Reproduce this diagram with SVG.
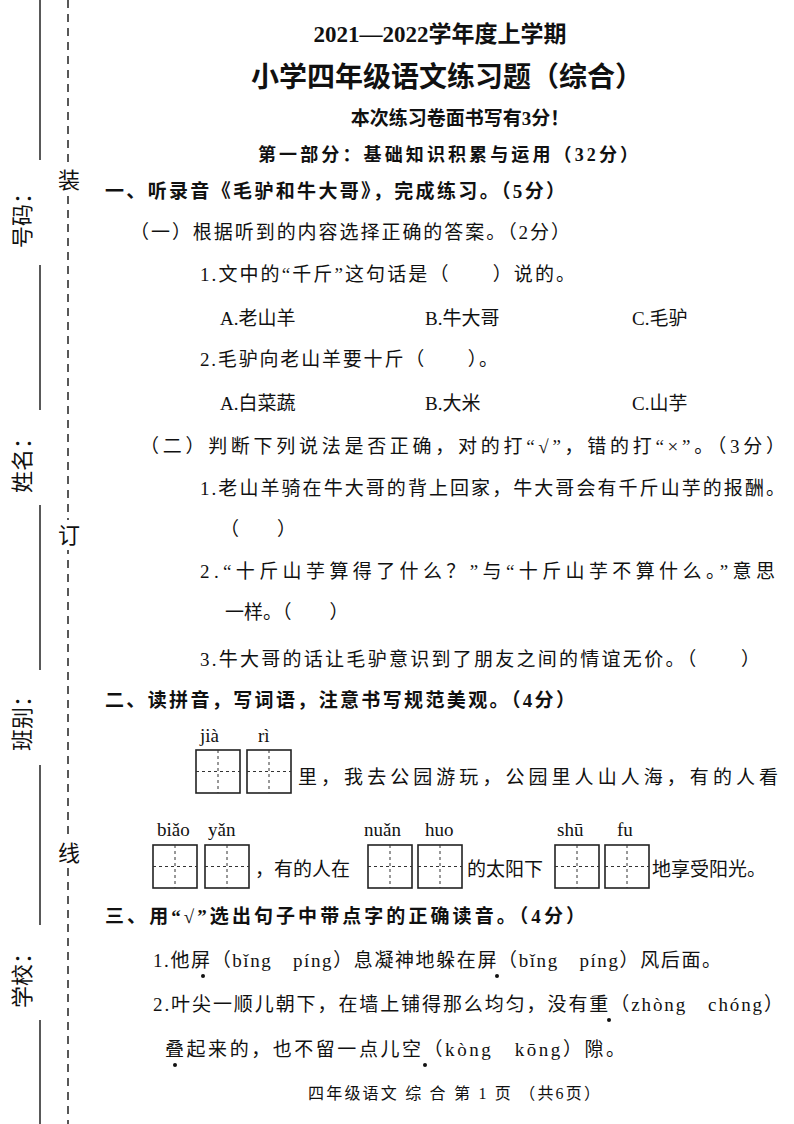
<svg xmlns="http://www.w3.org/2000/svg" width="794" height="1124" viewBox="0 0 794 1124">
<style>
text{font-family:"Liberation Serif","Noto Sans CJK SC",serif;fill:#111;font-size:19px}
.b{font-weight:bold}
.m{font-size:22px}
.t1{font-size:23px;font-weight:bold}
.t2{font-size:28px;font-weight:bold}
.t3{font-size:19px;font-weight:bold}
.t4{font-size:18px;font-weight:bold}
.ft{font-size:16px}
.box{fill:none;stroke:#222;stroke-width:1.6}
.dash{stroke:#333;stroke-width:1;stroke-dasharray:3,3}
.py{font-size:19px}
</style>
<rect width="794" height="1124" fill="#fff"/>
<g id="margin">
<line x1="40" y1="0" x2="40" y2="160" stroke="#222" stroke-width="1.5"/>
<line x1="40" y1="265" x2="40" y2="410" stroke="#222" stroke-width="1.5"/>
<line x1="40" y1="505" x2="40" y2="670" stroke="#222" stroke-width="1.5"/>
<line x1="40" y1="765" x2="40" y2="925" stroke="#222" stroke-width="1.5"/>
<line x1="40" y1="1020" x2="40" y2="1124" stroke="#222" stroke-width="1.5"/>
<line x1="68" y1="0" x2="68" y2="1124" stroke="#222" stroke-width="1.5" stroke-dasharray="8,6"/>
<text class="m" transform="translate(30,215) rotate(-90)" text-anchor="middle">号码：</text>
<text class="m" transform="translate(30,460) rotate(-90)" text-anchor="middle">姓名：</text>
<text class="m" transform="translate(30,718) rotate(-90)" text-anchor="middle">班别：</text>
<text class="m" transform="translate(30,975) rotate(-90)" text-anchor="middle">学校：</text>
<rect x="60" y="165" width="20" height="30" fill="#fff"/>
<text class="m" x="58" y="188">装</text>
<rect x="60" y="520" width="20" height="30" fill="#fff"/>
<text class="m" x="58" y="543">订</text>
<rect x="60" y="838" width="20" height="30" fill="#fff"/>
<text class="m" x="58" y="861">线</text>
</g>
<g id="header">
<text class="t1" x="440" y="42" text-anchor="middle">2021—2022学年度上学期</text>
<text class="t2" x="447" y="87" text-anchor="middle">小学四年级语文练习题（综合）</text>
<text class="t3" x="460" y="125" text-anchor="middle">本次练习卷面书写有3分！</text>
<text class="t4" x="258" y="161" textLength="380">第一部分：基础知识积累与运用（32分）</text>
</g>
<g id="part1">
<text class="b" x="105" y="198" textLength="460">一、听录音《毛驴和牛大哥》，完成练习。（5分）</text>
<text x="130" y="239" textLength="440">（一）根据听到的内容选择正确的答案。（2分）</text>
<text x="200" y="281" textLength="375">1.文中的“千斤”这句话是（　　）说的。</text>
<text x="220" y="325">A.老山羊</text><text x="425" y="325">B.牛大哥</text><text x="632" y="325">C.毛驴</text>
<text x="200" y="366" textLength="298">2.毛驴向老山羊要十斤（　　）。</text>
<text x="220" y="410">A.白菜蔬</text><text x="425" y="410">B.大米</text><text x="632" y="410">C.山芋</text>
<text x="140" y="453" textLength="645">（二）判断下列说法是否正确，对的打“√”，错的打“×”。（3分）</text>
<text x="200" y="495" textLength="585">1.老山羊骑在牛大哥的背上回家，牛大哥会有千斤山芋的报酬。</text>
<text x="220" y="536">（　　）</text>
<text x="200" y="578" textLength="575">2.“十斤山芋算得了什么？”与“十斤山芋不算什么。”意思</text>
<text x="225" y="619">一样。（　　）</text>
<text x="200" y="666" textLength="560">3.牛大哥的话让毛驴意识到了朋友之间的情谊无价。（　　）</text>
</g>
<g id="part2">
<text class="b" x="105" y="707" textLength="470">二、读拼音，写词语，注意书写规范美观。（4分）</text>
<text class="py" x="200" y="742">jià</text><text class="py" x="258" y="742">rì</text>
<rect class="box" x="196" y="750" width="44" height="43"/><rect class="box" x="247" y="750" width="44" height="43"/>
<path class="dash" d="M218 750V793M196 771.5H240M269 750V793M247 771.5H291"/>
<text x="298" y="784" textLength="480">里，我去公园游玩，公园里人山人海，有的人看</text>
<text class="py" x="157" y="836">biǎo</text><text class="py" x="208" y="836">yǎn</text>
<text class="py" x="364" y="836">nuǎn</text><text class="py" x="425" y="836">huo</text>
<text class="py" x="557" y="836">shū</text><text class="py" x="617" y="836">fu</text>
<rect class="box" x="153" y="845" width="44" height="43"/><rect class="box" x="205" y="845" width="44" height="43"/>
<rect class="box" x="368" y="845" width="44" height="43"/><rect class="box" x="418" y="845" width="44" height="43"/>
<rect class="box" x="555" y="845" width="44" height="43"/><rect class="box" x="605" y="845" width="44" height="43"/>
<path class="dash" d="M175 845V888M153 866.5H197M227 845V888M205 866.5H249M390 845V888M368 866.5H412M440 845V888M418 866.5H462M577 845V888M555 866.5H599M627 845V888M605 866.5H649"/>
<text x="255" y="876">，有的人在</text>
<text x="467" y="876">的太阳下</text>
<text x="652" y="876">地享受阳光。</text>
</g>
<g id="part3">
<text class="b" x="105" y="923" textLength="480">三、用“√”选出句子中带点字的正确读音。（4分）</text>
<text x="153" y="967" textLength="568">1.他屏（bǐng　píng）息凝神地躲在屏（bǐng　píng）风后面。</text>
<circle cx="203" cy="976" r="2" fill="#111"/><circle cx="497" cy="976" r="2" fill="#111"/>
<text x="153" y="1011" textLength="630">2.叶尖一顺儿朝下，在墙上铺得那么均匀，没有重（zhòng　chóng）</text>
<circle cx="609" cy="1020" r="2" fill="#111"/>
<text x="165" y="1056" textLength="460">叠起来的，也不留一点儿空（kòng　kōng）隙。</text>
<circle cx="425" cy="1065" r="2" fill="#111"/>
<circle cx="175" cy="1065" r="2" fill="#111"/>
</g>
<text class="ft" x="308" y="1099" textLength="292">四年级语文 综 合 第 1 页 （共6页）</text>
</svg>
